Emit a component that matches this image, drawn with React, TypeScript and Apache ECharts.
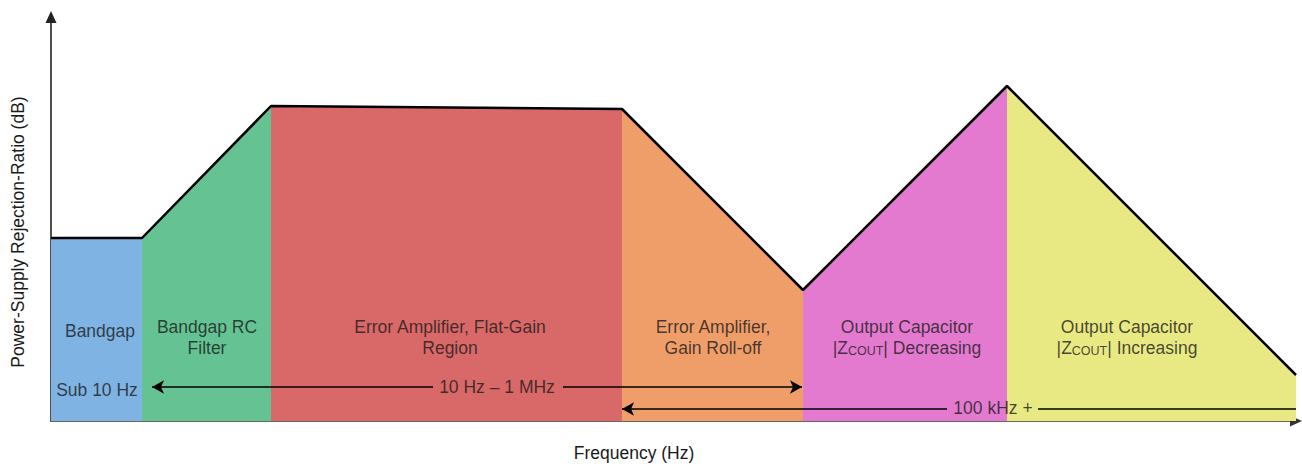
import React, { useEffect, useRef } from "react";
import * as echarts from "echarts";

// Envelope of the PSRR curve (abstract frequency units, abstract dB units)
const boundaries = [0, 91, 220, 571, 752, 956, 1245];
const levels = [183, 183, 315, 312, 131, 335, 46];

const regionNames = [
  "Bandgap",
  "Bandgap RC\nFilter",
  "Error Amplifier, Flat-Gain\nRegion",
  "Error Amplifier,\nGain Roll-off",
  "Output Capacitor\n|Z{s|COUT}| Decreasing",
  "Output Capacitor\n|Z{s|COUT}| Increasing",
];
const regionColors = ["#7EB3E3", "#64C293", "#D96868", "#EF9E6A", "#E47AD0", "#E9E984"];
const labelX = [49, 156, 399, 662, 856, 1076];
const labelY = [90, 84, 84, 84, 84, 84];

// Frequency range annotations
const annoTexts = ["Sub 10 Hz", "10 Hz \u2013 1 MHz", "100 kHz +"];
const annoX = [46, 446, 942];
const annoY = [31, 34, 13];
const rangeA = { y: 34, from: 101, gapStart: 382, gapEnd: 512, to: 751 };
const rangeB = { y: 12, from: 571, gapStart: 896, gapEnd: 987, to: 1245 };

const xTitle = "Frequency (Hz)";
const yTitle = "Power-Supply Rejection-Ratio (dB)";

const FONT = "'Liberation Sans', Arial, Helvetica, sans-serif";
const FS = 17.5;
const TXT = "#1a1a1a";

export default function App() {
  const ref = useRef<HTMLDivElement>(null);
  useEffect(() => {
    if (!ref.current) return;
    const chart = echarts.init(ref.current, null, { renderer: "svg" });

    const regionSeries = regionNames.map((name, i) => ({
      type: "line",
      name: "region" + i,
      data: [
        [boundaries[i], levels[i]],
        [boundaries[i + 1], levels[i + 1]],
      ],
      showSymbol: false,
      symbol: "none",
      lineStyle: { width: 0, opacity: 0 },
      areaStyle: { color: regionColors[i], opacity: 1 },
      silent: true,
      z: 1,
    }));

    const envelope = boundaries.map((b, i) => [b, levels[i]]);

    const option: any = {
      animation: false,
      grid: { left: 51, right: 6, top: 17, bottom: 43, outerBoundsMode: "none", containLabel: false },
      xAxis: {
        type: "value",
        min: 0,
        max: 1245,
        axisLine: {
          show: true,
          symbol: ["none", "triangle"],
          symbolSize: [11, 12],
          lineStyle: { color: "#333", width: 1.6 },
        },
        axisTick: { show: false },
        axisLabel: { show: false },
        splitLine: { show: false },
      },
      yAxis: {
        type: "value",
        min: 0,
        max: 404,
        axisLine: {
          show: true,
          symbol: ["none", "triangle"],
          symbolSize: [11, 12],
          lineStyle: { color: "#222", width: 1.6 },
        },
        axisTick: { show: false },
        axisLabel: { show: false },
        splitLine: { show: false },
      },
      graphic: [
        {
          type: "text",
          x: 18,
          y: 232,
          rotation: Math.PI / 2,
          style: {
            text: yTitle,
            fontSize: FS,
            fontFamily: FONT,
            fill: TXT,
            align: "center",
            verticalAlign: "middle",
          },
        },
        {
          type: "text",
          x: 634,
          y: 453,
          style: {
            text: xTitle,
            fontSize: FS,
            fontFamily: FONT,
            fill: TXT,
            align: "center",
            verticalAlign: "middle",
          },
        },
      ],
      series: [
        ...regionSeries,
        {
          type: "line",
          name: "envelope",
          data: envelope,
          showSymbol: false,
          symbol: "none",
          lineStyle: { color: "#000", width: 2.5 },
          z: 5,
          silent: true,
          markLine: {
            silent: true,
            symbolSize: [10, 12],
            label: { show: false },
            lineStyle: { color: "#000", width: 1.5, type: "solid" },
            data: [
              [
                { coord: [rangeA.from, rangeA.y], symbol: "arrow" },
                { coord: [rangeA.gapStart, rangeA.y], symbol: "none" },
              ],
              [
                { coord: [rangeA.gapEnd, rangeA.y], symbol: "none" },
                { coord: [rangeA.to, rangeA.y], symbol: "arrow" },
              ],
              [
                { coord: [rangeB.from, rangeB.y], symbol: "arrow" },
                { coord: [rangeB.gapStart, rangeB.y], symbol: "none" },
              ],
              [
                { coord: [rangeB.gapEnd, rangeB.y], symbol: "none" },
                { coord: [rangeB.to, rangeB.y], symbol: "none" },
              ],
            ],
          },
        },
        {
          type: "scatter",
          name: "regionLabels",
          symbolSize: 0,
          silent: true,
          z: 6,
          data: regionNames.map((n, i) => ({ value: [labelX[i], labelY[i]], name: n })),
          label: {
            show: true,
            position: "inside",
            formatter: (p: any) => p.name,
            fontSize: FS,
            lineHeight: 21,
            color: TXT,
            fontFamily: FONT,
            align: "center",
            rich: {
              s: { fontSize: 12.5, fontFamily: FONT, color: TXT, padding: [6, 0, 0, 0] },
            },
          },
        },
        {
          type: "scatter",
          name: "rangeLabels",
          symbolSize: 0,
          silent: true,
          z: 6,
          data: annoTexts.map((t, i) => ({ value: [annoX[i], annoY[i]], name: t })),
          label: {
            show: true,
            position: "inside",
            formatter: (p: any) => p.name,
            fontSize: FS,
            color: TXT,
            fontFamily: FONT,
          },
        },
      ],
    };
    chart.setOption(option);
    return () => chart.dispose();
  }, []);
  return (
    <div
      ref={ref}
      style={{ position: "absolute", left: 0, top: 0, width: 1302, height: 464, background: "#fff" }}
    />
  );
}
